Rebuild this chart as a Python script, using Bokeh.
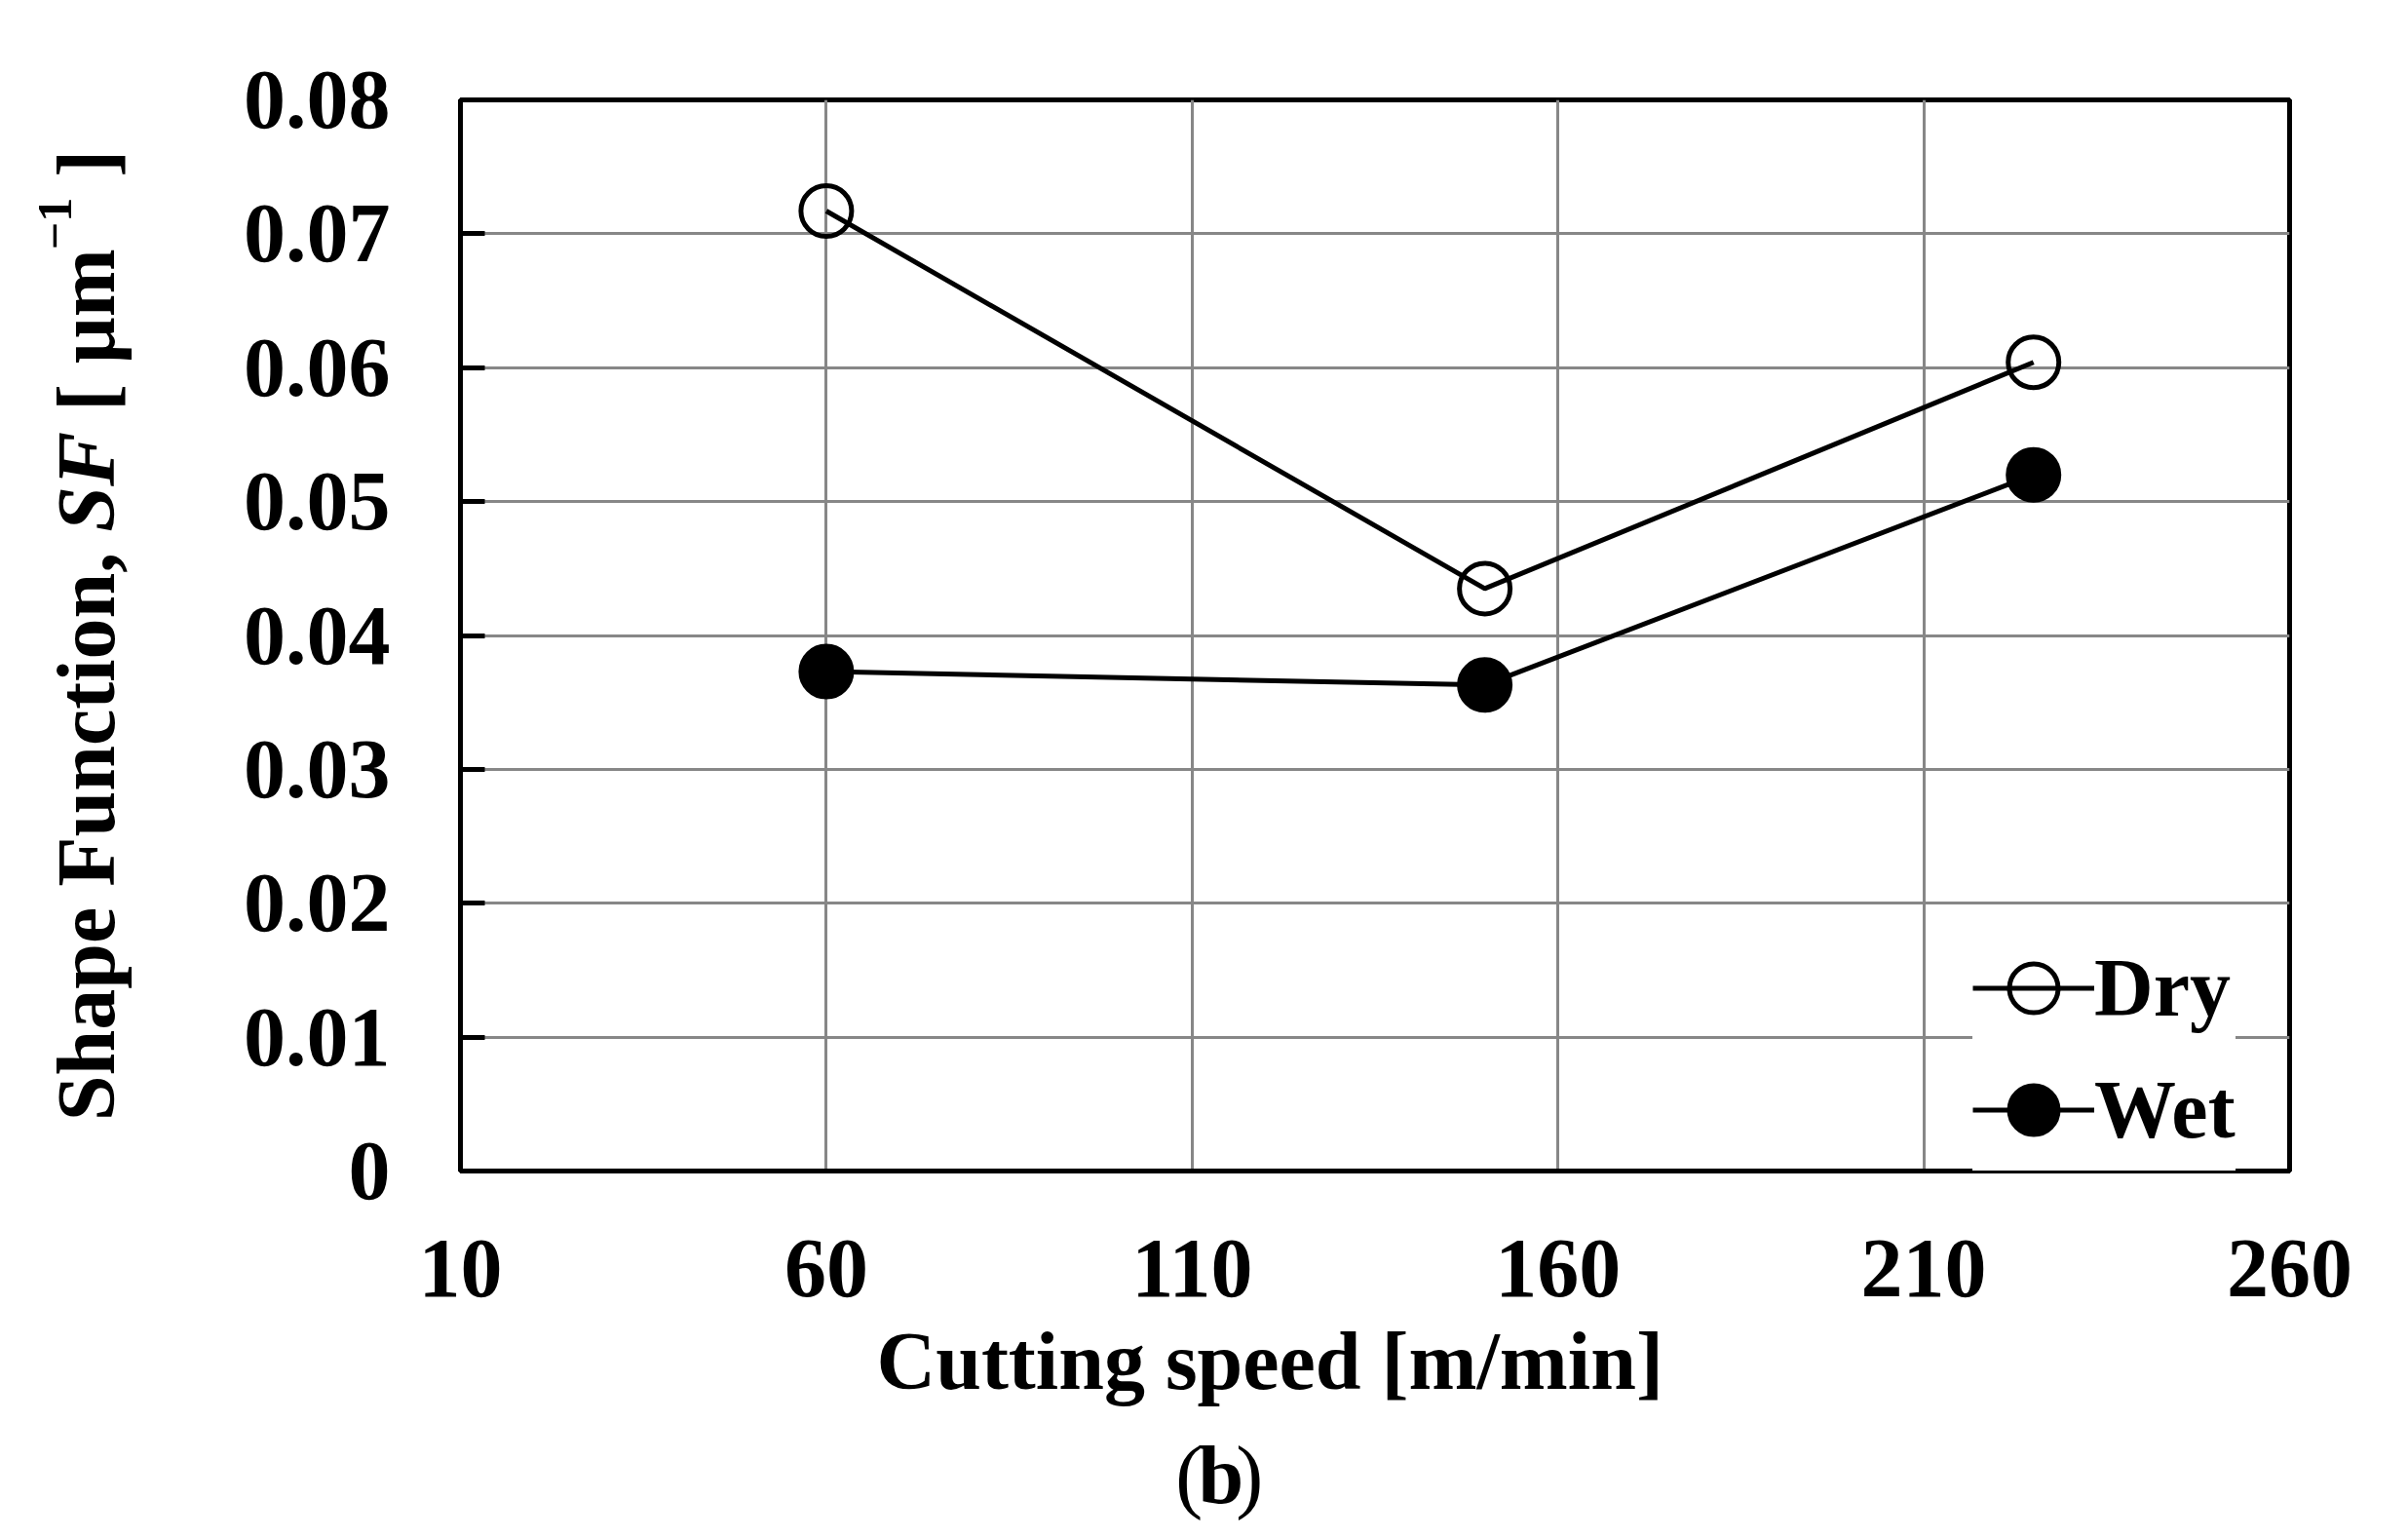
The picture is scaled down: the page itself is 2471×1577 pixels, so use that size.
from bokeh.plotting import figure
from bokeh.models import Range1d, FixedTicker, Legend, LegendItem, Label, Title
from bokeh.layouts import row, column
from bokeh.embed import file_html
from bokeh.resources import INLINE

# ---- data ----
speed = [60, 150, 225]
dry = [0.0717, 0.0435, 0.0604]
wet = [0.0373, 0.0363, 0.0520]

x_ticks = [10, 60, 110, 160, 210, 260]
y_ticks = [0.0, 0.01, 0.02, 0.03, 0.04, 0.05, 0.06, 0.07, 0.08]
y_tick_labels = ["0", "0.01", "0.02", "0.03", "0.04", "0.05", "0.06", "0.07", "0.08"]

x_title = "Cutting speed [m/min]"
series_names = ["Dry", "Wet"]

FONT = "Liberation Serif"
FS = 84

# ---- layout geometry (pixels) ----
W, H = 2463, 1569          # whole page area
LW = 200                   # left strip holding the y title
FRAME_L, FRAME_T = 472, 102
FRAME_W, FRAME_H = 1877, 1099
MAIN_H = 1475
MAIN_W = W - LW
BOT_H = H - MAIN_H
SHIFT = 30                 # label anchor correction (text is drawn this far "below" its anchor)
CAP_DX = -98               # horizontal correction for the caption strip

p = figure(width=MAIN_W, height=MAIN_H, output_backend="svg", toolbar_location=None,
           x_range=Range1d(10, 260), y_range=Range1d(0, 0.08),
           min_border_left=FRAME_L - LW, min_border_right=MAIN_W - (FRAME_L - LW) - FRAME_W,
           min_border_top=FRAME_T, min_border_bottom=MAIN_H - FRAME_T - FRAME_H)
p.background_fill_color = "white"
p.border_fill_color = "white"
p.outline_line_color = "black"
p.outline_line_width = 5

# axes
p.xaxis.ticker = FixedTicker(ticks=x_ticks)
p.yaxis.ticker = FixedTicker(ticks=y_ticks)
p.yaxis.major_label_overrides = {t: l for t, l in zip(y_ticks, y_tick_labels)}
for ax in (p.xaxis[0], p.yaxis[0]):
    ax.axis_line_color = "black"
    ax.axis_line_width = 5
    ax.minor_tick_line_color = None
    ax.major_label_text_font = FONT
    ax.major_label_text_font_size = "86px"
    ax.major_label_text_font_style = "bold"
    ax.major_label_text_color = "black"
p.xaxis.major_tick_in = 0
p.xaxis.major_tick_out = 0
p.xaxis.major_tick_line_color = None
p.xaxis.major_label_standoff = 71
p.yaxis.major_tick_in = 25
p.yaxis.major_tick_out = 0
p.yaxis.major_tick_line_width = 5
p.yaxis.major_tick_line_color = "black"
p.yaxis.major_label_standoff = 72

# grid
p.xgrid.ticker = FixedTicker(ticks=x_ticks)
p.ygrid.ticker = FixedTicker(ticks=y_ticks)
for g in (p.xgrid[0], p.ygrid[0]):
    g.grid_line_color = "#878787"
    g.grid_line_width = 3

# series
l_dry = p.line(speed, dry, line_color="black", line_width=5)
s_dry = p.scatter(speed, dry, marker="circle", size=52, fill_color=None,
                  line_color="black", line_width=5)
l_wet = p.line(speed, wet, line_color="black", line_width=5)
s_wet = p.scatter(speed, wet, marker="circle", size=52, fill_color="black",
                  line_color="black", line_width=5)

legend = Legend(items=[LegendItem(label=series_names[0], renderers=[l_dry, s_dry]),
                       LegendItem(label=series_names[1], renderers=[l_wet, s_wet])],
                location=(1552, 0), orientation="vertical",
                glyph_width=125, glyph_height=125, spacing=-15, padding=3,
                margin=0, label_standoff=-12,
                label_text_font=FONT, label_text_font_size=f"{FS}px",
                label_text_font_style="bold", label_text_color="black",
                background_fill_color="white", background_fill_alpha=1.0,
                border_line_color=None)
p.add_layout(legend)

# x-axis title as a Title below the axis
xt_width = 9.611 * FS
p.add_layout(Title(text=x_title, align="left", offset=int(1303 - xt_width / 2 - FRAME_L),
                   vertical_align="top", standoff=34,
                   text_font=FONT, text_font_size=f"{FS}px", text_font_style="bold",
                   text_color="black"), "below")


def text_strip(width, height):
    f = figure(width=width, height=height, output_backend="svg", toolbar_location=None,
               x_range=Range1d(0, width), y_range=Range1d(height, 0),
               x_axis_type=None, y_axis_type=None, min_border=0)
    f.outline_line_color = None
    f.background_fill_color = "white"
    f.border_fill_color = "white"
    return f


def lab(x, y, text, size=FS, style="bold", angle=0.0):
    return Label(x=x, y=y, text=text, angle=angle, text_align="left",
                 text_baseline="alphabetic", text_font=FONT,
                 text_font_size=f"{size}px", text_font_style=style, text_color="black")


# left strip: y-axis title, rotated, composed of pieces (reads bottom to top)
left = text_strip(LW, H)
SUP = 50
SP = 0.25  # width of a space, em
# (text, style, font px, advance in em incl. following space, rise px)
y_parts = [("Shape Function,", "bold", FS, 7.196, 0),
           ("SF", "bold italic", FS, 1.223 + SP, 0),
           ("[ \u03bcm", "bold", FS, 1.972, 0),
           ("\u22121", "bold", SUP, 1.07 + SP * FS / SUP, 32),
           ("]", "bold", FS, 0.333, 0)]
total = sum(w * fs for _, _, fs, w, _ in y_parts)
cy = FRAME_T + FRAME_H / 2 + total / 2
for t, st, fs, w, rise in y_parts:
    left.add_layout(lab(118 - SHIFT - rise, cy, t, size=fs, style=st,
                        angle=1.5707963267948966))
    cy -= w * fs

# bottom strip: caption "(b)"
bottom = text_strip(MAIN_W, BOT_H)
cap_parts = [("(", "normal", 0.333), ("b", "bold", 0.556), (")", "normal", 0.333)]
cap_w = sum(w for _, _, w in cap_parts) * FS
cx = 1234 - LW - cap_w / 2 + CAP_DX
for t, st, w in cap_parts:
    bottom.add_layout(lab(cx, 1543 - SHIFT - MAIN_H, t, style=st))
    cx += w * FS

layout = row(left, column(p, bottom, spacing=0), spacing=0)
open("out.html", "w").write(file_html(layout, INLINE))
